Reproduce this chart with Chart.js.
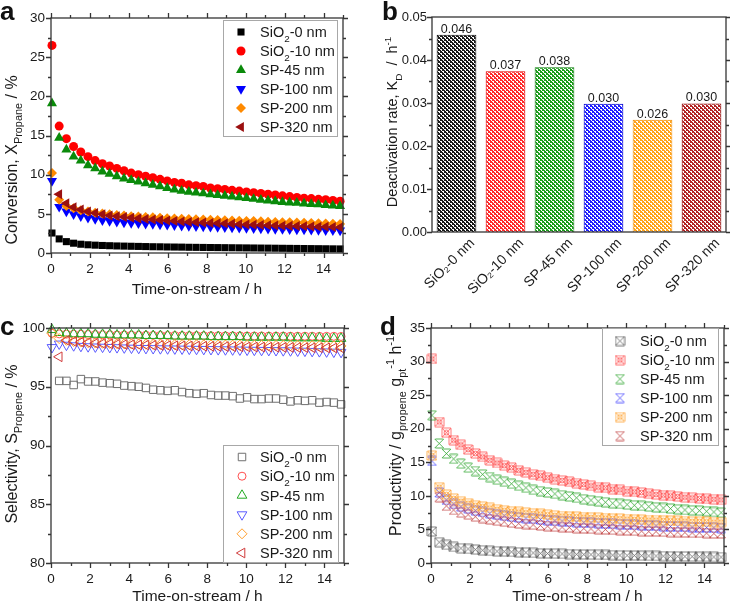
<!DOCTYPE html>
<html><head><meta charset="utf-8">
<title>Propane dehydrogenation – Pt catalysts</title>
<script src="https://cdn.jsdelivr.net/npm/chart.js@4.4.1/dist/chart.umd.min.js"></script>
<style>
html,body{margin:0;padding:0;background:#fff;overflow:hidden}
#wrap{position:relative;width:730px;height:606px;background:#fff}
canvas{position:absolute;display:block}
</style></head><body>
<div id="wrap">
<canvas id="ca" width="365" height="303" style="left:0;top:0"></canvas>
<canvas id="cb" width="365" height="303" style="left:365px;top:0"></canvas>
<canvas id="cc" width="365" height="303" style="left:0;top:303px"></canvas>
<canvas id="cd" width="365" height="303" style="left:365px;top:303px"></canvas>
</div>
<script>
const FONT = "'Liberation Sans', Arial, Helvetica, sans-serif";
Chart.defaults.font.family = FONT;
Chart.defaults.color = '#1a1a1a';
Chart.defaults.animation = false;

// ---------- data ----------
const seriesNames = ['SiO2-0 nm','SiO2-10 nm','SP-45 nm','SP-100 nm','SP-200 nm','SP-320 nm'];
const times = [0.05,0.42,0.79,1.16,1.53,1.9,2.27,2.64,3.01,3.38,3.75,4.12,4.49,4.86,5.23,5.6,5.97,6.34,6.71,7.08,7.45,7.82,8.19,8.56,8.93,9.3,9.67,10.04,10.41,10.78,11.15,11.52,11.89,12.26,12.63,13.0,13.37,13.74,14.11,14.48,14.85];

// (a) conversion, %
const conv_SiO2_0  = [2.55,1.8,1.45,1.25,1.12,1.05,1.0,0.96,0.93,0.9,0.88,0.86,0.84,0.82,0.8,0.79,0.77,0.76,0.75,0.73,0.72,0.71,0.7,0.69,0.68,0.67,0.66,0.65,0.64,0.63,0.62,0.61,0.6,0.59,0.58,0.57,0.56,0.55,0.54,0.53,0.52];
const conv_SiO2_10 = [26.5,16.2,14.6,13.6,12.9,12.3,11.8,11.4,11.1,10.8,10.5,10.2,10.0,9.8,9.6,9.4,9.2,9.0,8.9,8.7,8.6,8.5,8.3,8.2,8.1,8.0,7.9,7.8,7.7,7.6,7.5,7.4,7.3,7.2,7.1,7.0,6.95,6.85,6.8,6.7,6.6];
const conv_SP45    = [19.1,14.7,13.2,12.3,11.8,11.2,10.8,10.4,10.1,9.8,9.5,9.3,9.1,8.9,8.7,8.5,8.3,8.1,7.95,7.8,7.7,7.6,7.5,7.4,7.3,7.2,7.1,7.0,6.9,6.8,6.7,6.6,6.5,6.45,6.4,6.3,6.25,6.2,6.1,6.05,6.0];
const conv_SP100   = [9.2,5.9,5.3,4.95,4.7,4.5,4.35,4.2,4.1,4.0,3.9,3.85,3.8,3.75,3.7,3.65,3.6,3.55,3.5,3.45,3.42,3.4,3.37,3.34,3.3,3.27,3.24,3.2,3.17,3.14,3.1,3.08,3.06,3.04,3.02,3.0,2.98,2.95,2.92,2.9,2.88];
const conv_SP200   = [10.2,6.8,6.0,5.7,5.45,5.3,5.15,5.05,4.95,4.85,4.78,4.7,4.65,4.6,4.55,4.5,4.45,4.42,4.38,4.35,4.32,4.28,4.25,4.22,4.18,4.15,4.12,4.1,4.07,4.04,4.0,3.97,3.94,3.91,3.88,3.85,3.82,3.79,3.76,3.73,3.7];
const conv_SP320   = [null,7.5,6.35,5.85,5.55,5.3,5.1,4.95,4.8,4.7,4.6,4.5,4.42,4.35,4.28,4.2,4.14,4.08,4.02,3.97,3.92,3.88,3.84,3.8,3.76,3.72,3.68,3.64,3.61,3.58,3.55,3.52,3.49,3.46,3.44,3.41,3.39,3.36,3.34,3.32,3.3];

// (b) deactivation rate, 1/h
const kdValues = [0.0459,0.0374,0.0383,0.0298,0.0261,0.0299];

// (c) selectivity, %
const sel_SiO2_0  = [null,95.5,95.5,95.15,95.65,95.45,95.45,95.35,95.3,95.25,95.1,95.05,95.0,94.9,94.75,94.7,94.65,94.7,94.55,94.45,94.4,94.45,94.3,94.25,94.25,94.2,94.0,94.1,93.95,93.95,94.0,94.0,93.9,93.75,93.85,93.8,93.85,93.65,93.7,93.65,93.5];
const sel_SiO2_10 = [99.55,99.5,99.48,99.46,99.45,99.44,99.43,99.42,99.41,99.4,99.4,99.39,99.38,99.38,99.37,99.37,99.36,99.36,99.35,99.35,99.35,99.34,99.34,99.34,99.33,99.33,99.33,99.32,99.32,99.32,99.31,99.31,99.31,99.3,99.3,99.3,99.3,99.29,99.29,99.29,99.28];
const sel_SP45    = [99.85,99.6,99.55,99.5,99.5,99.5,99.45,99.45,99.45,99.4,99.4,99.4,99.4,99.35,99.35,99.35,99.35,99.3,99.3,99.3,99.3,99.3,99.25,99.25,99.25,99.25,99.25,99.2,99.2,99.2,99.2,99.2,99.2,99.15,99.15,99.15,99.15,99.15,99.1,99.1,99.1];
const sel_SP100   = [98.35,98.65,98.55,98.5,98.45,98.42,98.4,98.38,98.36,98.34,98.32,98.3,98.28,98.27,98.26,98.25,98.24,98.23,98.22,98.21,98.2,98.19,98.18,98.17,98.16,98.15,98.14,98.13,98.12,98.11,98.1,98.09,98.08,98.07,98.05,98.04,98.02,98.0,97.98,97.96,97.94];
const sel_SP200   = [99.55,99.1,98.95,98.85,98.8,98.75,98.72,98.7,98.68,98.66,98.65,98.64,98.63,98.62,98.61,98.6,98.6,98.59,98.58,98.58,98.57,98.56,98.56,98.55,98.55,98.54,98.54,98.53,98.53,98.52,98.52,98.51,98.51,98.5,98.5,98.5,98.49,98.49,98.48,98.48,98.47];
const sel_SP320   = [null,97.55,98.95,98.85,98.8,98.75,98.7,98.68,98.65,98.62,98.6,98.58,98.56,98.55,98.53,98.52,98.5,98.49,98.48,98.47,98.46,98.45,98.44,98.43,98.42,98.41,98.4,98.39,98.38,98.38,98.37,98.36,98.35,98.35,98.34,98.33,98.32,98.32,98.31,98.3,98.3];

// (d) productivity, g_propene g_pt^-1 h^-1
const prod_SiO2_0  = [4.7,3.1,2.7,2.4,2.2,2.1,2.0,1.9,1.8,1.75,1.7,1.65,1.6,1.55,1.5,1.45,1.42,1.39,1.36,1.33,1.3,1.27,1.25,1.22,1.2,1.18,1.15,1.13,1.11,1.09,1.07,1.05,1.03,1.01,0.99,0.97,0.95,0.94,0.92,0.9,0.88];
const prod_SiO2_10 = [30.4,21.0,19.4,18.3,17.6,16.9,16.3,15.8,15.3,14.9,14.5,14.2,13.8,13.5,13.2,13.0,12.7,12.5,12.3,12.1,11.9,11.7,11.5,11.3,11.2,11.0,10.9,10.7,10.6,10.5,10.3,10.2,10.1,10.0,9.9,9.8,9.7,9.6,9.55,9.5,9.4];
const prod_SP45    = [22.0,17.8,16.3,15.5,14.8,14.2,13.7,13.2,12.8,12.4,12.1,11.8,11.5,11.2,10.9,10.7,10.5,10.3,10.1,9.9,9.7,9.5,9.35,9.2,9.05,8.9,8.8,8.7,8.6,8.5,8.4,8.3,8.2,8.1,8.0,7.9,7.85,7.8,7.7,7.6,7.5];
const prod_SP100   = [15.2,10.5,9.4,8.8,8.4,8.1,7.8,7.6,7.4,7.2,7.05,6.9,6.8,6.7,6.6,6.5,6.4,6.3,6.25,6.2,6.1,6.05,6.0,5.95,5.9,5.85,5.8,5.75,5.7,5.65,5.6,5.55,5.5,5.45,5.4,5.4,5.35,5.3,5.3,5.25,5.2];
const prod_SP200   = [16.0,11.3,10.2,9.6,9.2,8.9,8.6,8.4,8.2,8.0,7.85,7.7,7.6,7.5,7.4,7.3,7.2,7.1,7.0,6.95,6.9,6.85,6.8,6.75,6.7,6.65,6.6,6.55,6.5,6.45,6.4,6.4,6.35,6.3,6.3,6.25,6.2,6.2,6.15,6.1,6.1];
const prod_SP320   = [null,9.8,8.5,7.9,7.5,7.2,6.9,6.7,6.5,6.3,6.15,6.0,5.9,5.8,5.7,5.6,5.5,5.4,5.35,5.3,5.2,5.15,5.1,5.05,5.0,4.95,4.9,4.85,4.8,4.75,4.7,4.7,4.65,4.6,4.6,4.55,4.5,4.5,4.45,4.4,4.4];

// ticks
const timeTicks = [0,2,4,6,8,10,12,14];
const convTicks = [0,5,10,15,20,25,30];
const kdTicks   = [0,0.01,0.02,0.03,0.04,0.05];
const selTicks  = [80,85,90,95,100];
const prodTicks = [0,5,10,15,20,25,30,35];

// ---------- helpers ----------
function pts(arr){ return times.map((t,i)=>({x:t,y:arr[i]})).filter(p=>p.y!==null); }
function fontFor(s, fs){ return (s[1]==='n' ? fs : (fs*0.68).toFixed(1)) + 'px ' + FONT; }
function richWidth(ctx, segs, fs){ let w=0; segs.forEach(s=>{ ctx.font=fontFor(s,fs); w+=ctx.measureText(s[0]).width; }); return w; }
function drawRich(ctx, segs, x, y, fs, align){
  let cx = align==='center' ? x - richWidth(ctx,segs,fs)/2 : x;
  segs.forEach(s=>{
    ctx.font = fontFor(s,fs);
    const dy = s[1]==='sub' ? 0.3*fs : (s[1]==='sup' ? -0.4*fs : 0);
    ctx.fillText(s[0], cx, y+dy);
    cx += ctx.measureText(s[0]).width;
  });
}
function nameSegs(n){ const m=n.match(/^SiO2(.*)$/); return m ? [['SiO','n'],['2','sub'],[m[1],'n']] : [[n,'n']]; }

function drawMarker(ctx, style, r, rot, x, y, fill, stroke, lw){
  ctx.save();
  if (style instanceof HTMLCanvasElement){ ctx.drawImage(style, x-style.width/2, y-style.height/2); ctx.restore(); return; }
  ctx.translate(x,y); ctx.rotate((rot||0)*Math.PI/180);
  ctx.beginPath();
  if (style==='circle') ctx.arc(0,0,r,0,Math.PI*2);
  else if (style==='rect'){ const s=r*Math.SQRT1_2; ctx.rect(-s,-s,2*s,2*s); }
  else if (style==='rectRot'){ ctx.moveTo(0,-r); ctx.lineTo(r,0); ctx.lineTo(0,r); ctx.lineTo(-r,0); ctx.closePath(); }
  else if (style==='triangle'){ for(let k=0;k<3;k++){ const a=k*2*Math.PI/3; const px=Math.sin(a)*r, py=-Math.cos(a)*r; if(k) ctx.lineTo(px,py); else ctx.moveTo(px,py);} ctx.closePath(); }
  ctx.fillStyle=fill; ctx.fill();
  if (lw>0){ ctx.strokeStyle=stroke; ctx.lineWidth=lw; ctx.stroke(); }
  ctx.restore();
}

function markerImg(kind, color, circle){
  const s=11, c=document.createElement('canvas'); c.width=s; c.height=s;
  const g=c.getContext('2d'); g.strokeStyle=color; g.lineWidth=0.85; g.globalAlpha=0.85;
  const a=1, b=s-1;
  g.beginPath();
  if (kind==='box'){ g.rect(a,a,b-a,b-a); }
  else { g.moveTo(a+0.5,a); g.lineTo(b-0.5,a); g.moveTo(a+0.5,b); g.lineTo(b-0.5,b); }
  g.moveTo(a,a); g.lineTo(b,b); g.moveTo(b,a); g.lineTo(a,b);
  g.stroke();
  if (circle){ g.beginPath(); g.arc(s/2,s/2,2.4,0,Math.PI*2); g.stroke(); }
  return c;
}

function hatch(color){
  const c=document.createElement('canvas'); c.width=4; c.height=4;
  const g=c.getContext('2d'); g.fillStyle='#fff'; g.fillRect(0,0,4,4);
  g.fillStyle=color;
  for(let i=0;i<4;i++){ g.fillRect(i,i,1,1); g.fillRect(3-i,i,1,1); }
  g.fillRect(1,0,1,1); g.fillRect(3,2,1,1);
  return g.createPattern(c,'repeat');
}

// ---------- decoration plugin ----------
const decor = {
  id:'decor',
  afterDatasetsDraw(chart, args, o){
    const ctx=chart.ctx, a=chart.chartArea, xs=chart.scales.x, ys=chart.scales.y;
    ctx.save();
    ctx.strokeStyle='#353535'; ctx.lineWidth=1.3;
    ctx.beginPath();
    if (o.xStep){
      const n=Math.round((xs.max-xs.min)/o.xStep);
      for(let k=0;k<=n;k++){
        const v=xs.min+k*o.xStep, p=Math.round(xs.getPixelForValue(v))+0.5;
        const big=Math.abs(v/o.xMajor-Math.round(v/o.xMajor))<1e-6, L=big?5:3;
        ctx.moveTo(p,a.bottom); ctx.lineTo(p,a.bottom+L);
        ctx.moveTo(p,a.top); ctx.lineTo(p,a.top-L);
      }
    }
    if (o.yStep){
      const n=Math.round((ys.max-ys.min)/o.yStep);
      for(let k=0;k<=n;k++){
        const v=ys.min+k*o.yStep, p=Math.round(ys.getPixelForValue(v))+0.5;
        const big=Math.abs(v/o.yMajor-Math.round(v/o.yMajor))<1e-6, L=big?5:3;
        ctx.moveTo(a.left,p); ctx.lineTo(a.left-L,p);
        ctx.moveTo(a.right,p); ctx.lineTo(a.right+L,p);
      }
    }
    ctx.stroke();
    ctx.strokeRect(a.left, a.top, a.right-a.left, a.bottom-a.top);
    ctx.restore();
  },
  afterDraw(chart, args, o){
    const ctx=chart.ctx;
    ctx.save();
    ctx.fillStyle='#111';
    if (o.letter){ ctx.font='bold 26px '+FONT; ctx.textBaseline='alphabetic'; ctx.textAlign='left'; ctx.fillText(o.letter.t, o.letter.x, o.letter.y); }
    if (o.ytitle){
      const t=o.ytitle; ctx.save(); ctx.translate(t.cx,t.cy); ctx.rotate(-Math.PI/2);
      ctx.textAlign='left'; ctx.textBaseline='alphabetic'; ctx.fillStyle='#1a1a1a';
      drawRich(ctx, t.segs, 0, t.fs*0.36, t.fs, 'center'); ctx.restore();
    }
    if (o.barLabels){
      const meta=chart.getDatasetMeta(0);
      ctx.font='12.5px '+FONT; ctx.textAlign='center'; ctx.textBaseline='alphabetic'; ctx.fillStyle='#1a1a1a';
      meta.data.forEach((bar,i)=>{ ctx.fillText(kdValues[i].toFixed(3), bar.x, bar.y-2); });
    }
    if (o.legend){
      const L=o.legend;
      ctx.fillStyle='#fff'; ctx.fillRect(L.x,L.y,L.w,L.h);
      ctx.strokeStyle='#a8a8a8'; ctx.lineWidth=1; ctx.strokeRect(L.x+0.5,L.y+0.5,L.w,L.h);
      chart.data.datasets.forEach((ds,i)=>{
        const cy=L.y0+i*L.dy;
        drawMarker(ctx, ds.pointStyle, ds.pointRadius, ds.pointRotation, L.mx, cy, ds.pointBackgroundColor, ds.pointBorderColor, ds.pointBorderWidth);
        ctx.fillStyle='#1a1a1a'; ctx.textAlign='left'; ctx.textBaseline='alphabetic';
        drawRich(ctx, nameSegs(ds.label), L.tx, cy+L.fs*0.36, L.fs, 'left');
      });
    }
    ctx.restore();
  }
};

function ds(i, arr, st){
  return Object.assign({label:seriesNames[i], data:pts(arr), showLine:false, clip:false, order:-i,
    pointBorderWidth:0, pointRotation:0, pointHoverRadius:0}, st);
}

function scatterOptions(p){
  return {
    responsive:false, animation:false, events:[],
    layout:{padding:p.pad},
    plugins:{legend:{display:false}, tooltip:{enabled:false}, decor:p.decor},
    scales:{
      x:{type:'linear', min:0, max:15,
        afterBuildTicks:s=>{ s.ticks=timeTicks.map(v=>({value:v})); },
        afterFit:s=>{ s.height=p.xh; },
        grid:{display:false, drawTicks:false}, border:{display:false},
        ticks:{padding:8, maxRotation:0, font:{size:13.5}, color:'#1a1a1a'},
        title:{display:true, text:'Time-on-stream / h', font:{size:15.5}, color:'#1a1a1a', padding:{top:0,bottom:p.xtp}}
      },
      y:{type:'linear', min:p.ymin, max:p.ymax,
        afterBuildTicks:s=>{ s.ticks=p.yticks.map(v=>({value:v})); },
        afterFit:s=>{ s.width=p.yw; },
        grid:{display:false, drawTicks:false}, border:{display:false},
        ticks:{padding:6, font:{size:13.5}, color:'#1a1a1a'}
      }
    }
  };
}

// ---------- (a) ----------
new Chart(document.getElementById('ca'), {
  type:'scatter',
  data:{datasets:[
    ds(0, conv_SiO2_0,  {pointStyle:'rect', pointRadius:5, pointBackgroundColor:'#000000', pointBorderColor:'#000000'}),
    ds(1, conv_SiO2_10, {pointStyle:'circle', pointRadius:4.5, pointBackgroundColor:'#ff0000', pointBorderColor:'#ff0000'}),
    ds(2, conv_SP45,    {pointStyle:'triangle', pointRadius:5.8, pointBackgroundColor:'#0a8a0a', pointBorderColor:'#0a8a0a'}),
    ds(3, conv_SP100,   {pointStyle:'triangle', pointRotation:180, pointRadius:5.8, pointBackgroundColor:'#0000ff', pointBorderColor:'#0000ff'}),
    ds(4, conv_SP200,   {pointStyle:'rectRot', pointRadius:5, pointBackgroundColor:'#ff8a00', pointBorderColor:'#ff8a00'}),
    ds(5, conv_SP320,   {pointStyle:'triangle', pointRotation:270, pointRadius:5.8, pointBackgroundColor:'#9b1010', pointBorderColor:'#9b1010'})
  ]},
  plugins:[decor],
  options:scatterOptions({pad:{left:0,top:18,right:22,bottom:0}, xh:50, yw:51, xtp:4, ymin:0, ymax:30, yticks:convTicks,
    decor:{xStep:1, xMajor:2, yStep:2.5, yMajor:5,
      letter:{t:'a', x:0, y:20},
      ytitle:{cx:11, cy:160, fs:16, segs:[['Conversion, X','n'],['Propane','sub'],[' / %','n']]},
      legend:{x:223, y:20, w:114, h:116, y0:32, dy:19, mx:241, tx:260, fs:14.5}}})
});

// ---------- (b) ----------
const barColors = ['#1a1a1a','#ff2a2a','#1c9c1c','#2020ff','#ffa31a','#b32424'];
const barEdges  = ['#000000','#e00000','#0a7a0a','#0000cc','#f08c00','#8b0000'];
new Chart(document.getElementById('cb'), {
  type:'bar',
  data:{labels:seriesNames.map(n=>n.replace('SiO2','SiO\u2082')),
    datasets:[{label:'Deactivation rate', data:kdValues, backgroundColor:barColors.map(hatch), borderColor:barEdges, borderWidth:1,
      barPercentage:0.81, categoryPercentage:1}]},
  plugins:[decor],
  options:{
    responsive:false, animation:false, events:[],
    layout:{padding:{left:0,top:17,right:4,bottom:0}},
    plugins:{legend:{display:false}, tooltip:{enabled:false},
      decor:{yStep:0.005, yMajor:0.01, barLabels:true,
        letter:{t:'b', x:17, y:20},
        ytitle:{cx:27, cy:122, fs:14.5, segs:[['Deactivation rate, K','n'],['D','sub'],['  /  h','n'],['-1','sup']]}}},
    scales:{
      x:{type:'category', offset:true, afterFit:s=>{ s.height=71; },
        grid:{display:false, drawTicks:false}, border:{display:false},
        ticks:{minRotation:45, maxRotation:45, autoSkip:false, labelOffset:16, padding:3, font:{size:14}, color:'#1a1a1a'}},
      y:{type:'linear', min:0, max:0.05,
        afterBuildTicks:s=>{ s.ticks=kdTicks.map(v=>({value:v})); },
        afterFit:s=>{ s.width=67; },
        grid:{display:false, drawTicks:false}, border:{display:false},
        ticks:{padding:5, font:{size:13}, color:'#1a1a1a', callback:v=>Number(v).toFixed(2)}}
    }
  }
});

// ---------- (c) ----------
const hollow='rgba(0,0,0,0)';
new Chart(document.getElementById('cc'), {
  type:'scatter',
  data:{datasets:[
    ds(0, sel_SiO2_0,  {pointStyle:'rect', pointRadius:5.3, pointBackgroundColor:hollow, pointBorderColor:'#707070', pointBorderWidth:1}),
    ds(1, sel_SiO2_10, {pointStyle:'circle', pointRadius:4, pointBackgroundColor:hollow, pointBorderColor:'#ff5050', pointBorderWidth:1}),
    ds(2, sel_SP45,    {pointStyle:'triangle', pointRadius:5.6, pointBackgroundColor:hollow, pointBorderColor:'#22aa22', pointBorderWidth:1}),
    ds(3, sel_SP100,   {pointStyle:'triangle', pointRotation:180, pointRadius:5.6, pointBackgroundColor:hollow, pointBorderColor:'#5a5aff', pointBorderWidth:1}),
    ds(4, sel_SP200,   {pointStyle:'rectRot', pointRadius:5, pointBackgroundColor:hollow, pointBorderColor:'#ffa030', pointBorderWidth:1}),
    ds(5, sel_SP320,   {pointStyle:'triangle', pointRotation:270, pointRadius:5.6, pointBackgroundColor:hollow, pointBorderColor:'#d03a3a', pointBorderWidth:1})
  ]},
  plugins:[decor],
  options:scatterOptions({pad:{left:0,top:25,right:21,bottom:0}, xh:43, yw:51, xtp:0, ymin:80, ymax:100, yticks:selTicks,
    decor:{xStep:1, xMajor:2, yStep:2.5, yMajor:5,
      letter:{t:'c', x:0, y:32},
      ytitle:{cx:11, cy:141, fs:16, segs:[['Selectivity, S','n'],['Propene','sub'],[' / %','n']]},
      legend:{x:223, y:142, w:115, h:117, y0:154, dy:19.2, mx:242, tx:260, fs:14.5}}})
});

// ---------- (d) ----------
new Chart(document.getElementById('cd'), {
  type:'scatter',
  data:{datasets:[
    ds(0, prod_SiO2_0,  {pointStyle:markerImg('box','#505050',false), pointRadius:5.5, pointBackgroundColor:hollow, pointBorderColor:'#505050'}),
    ds(1, prod_SiO2_10, {pointStyle:markerImg('box','#ff4040',true),  pointRadius:5.5, pointBackgroundColor:hollow, pointBorderColor:'#ff4040'}),
    ds(2, prod_SP45,    {pointStyle:markerImg('hour','#159a15',false), pointRadius:5.5, pointBackgroundColor:hollow, pointBorderColor:'#159a15'}),
    ds(3, prod_SP100,   {pointStyle:markerImg('hour','#3030ff',false), pointRadius:5.5, pointBackgroundColor:hollow, pointBorderColor:'#3030ff'}),
    ds(4, prod_SP200,   {pointStyle:markerImg('box','#ff9a20',true),  pointRadius:5.5, pointBackgroundColor:hollow, pointBorderColor:'#ff9a20'}),
    ds(5, prod_SP320,   {pointStyle:markerImg('hour','#b82828',false), pointRadius:5.5, pointBackgroundColor:hollow, pointBorderColor:'#b82828'})
  ]},
  plugins:[decor],
  options:scatterOptions({pad:{left:0,top:25,right:6,bottom:0}, xh:43, yw:66, xtp:0, ymin:0, ymax:35, yticks:prodTicks,
    decor:{xStep:1, xMajor:2, yStep:2.5, yMajor:5,
      letter:{t:'d', x:15, y:32},
      ytitle:{cx:30, cy:133, fs:16, segs:[['Productivity / g','n'],['propene','sub'],[' g','n'],['pt','sub'],['-1','sup'],[' h','n'],['-1','sup']]},
      legend:{x:237, y:25, w:116, h:117, y0:38, dy:19, mx:255, tx:275, fs:14.5}}})
});
</script>
</body></html>
